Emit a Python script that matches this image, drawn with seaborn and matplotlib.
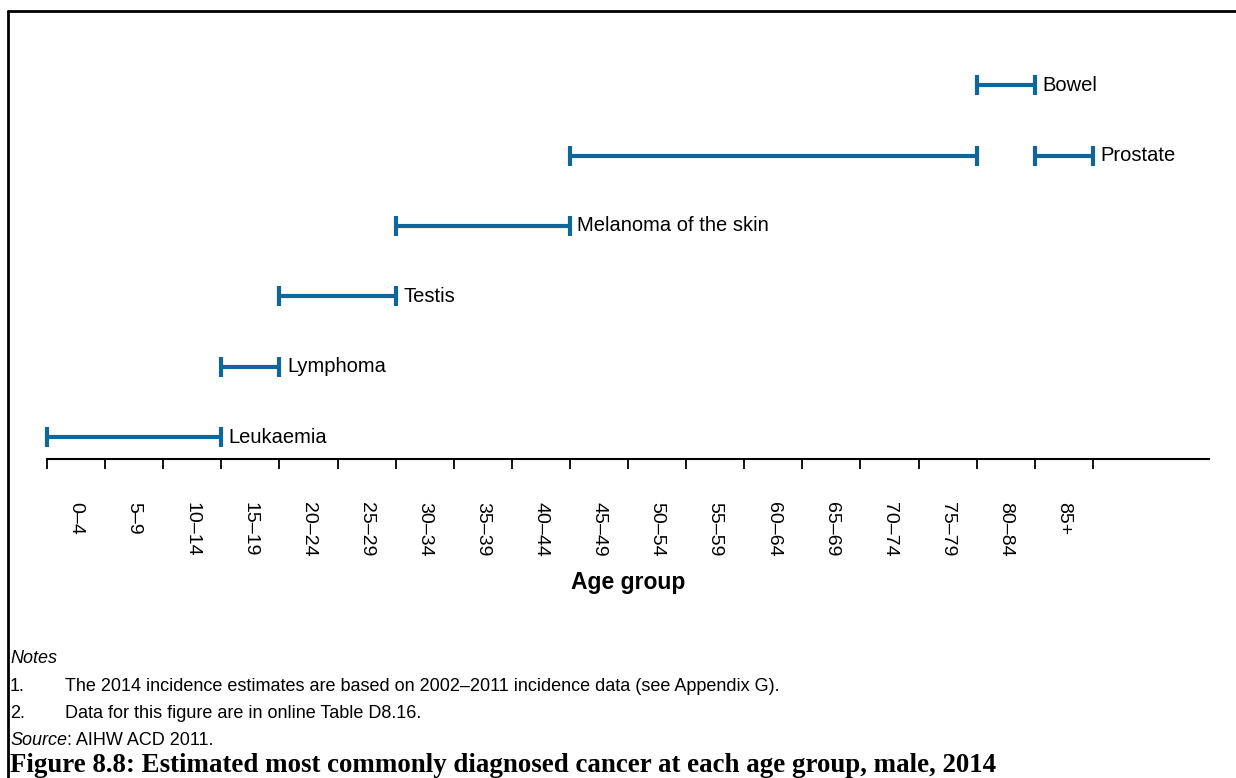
import numpy as np
import pandas as pd
import matplotlib
matplotlib.use("Agg")
import matplotlib.pyplot as plt
from matplotlib.lines import Line2D
import seaborn as sns

# ---------------- data ----------------
age_groups = ["0–4", "5–9", "10–14", "15–19", "20–24", "25–29", "30–34", "35–39",
              "40–44", "45–49", "50–54", "55–59", "60–64", "65–69", "70–74",
              "75–79", "80–84", "85+"]
# each segment: cancer, row, first boundary, last boundary (boundary index between age groups)
seg_cancer = ["Leukaemia", "Lymphoma", "Testis", "Melanoma of the skin",
              "Prostate", "Prostate", "Bowel"]
seg_row = [0, 1, 2, 3, 4, 4, 5]
seg_start = [0, 3, 4, 6, 9, 17, 16]
seg_end = [3, 4, 6, 9, 16, 18, 17]
seg_labelled = [True, True, True, True, False, True, True]

blue = "#0f6699"

sns.set_style("white")
plt.rcParams['font.family'] = ['Liberation Sans', 'DejaVu Sans']
plt.rcParams['text.color'] = 'black'
plt.rcParams['xtick.color'] = 'black'
plt.rcParams['xtick.labelcolor'] = 'black'

rows = []
for i in range(len(seg_cancer)):
    rows.append({"seg": i, "x": seg_start[i], "y": seg_row[i]})
    rows.append({"seg": i, "x": seg_end[i], "y": seg_row[i]})
df = pd.DataFrame(rows)

fig = plt.figure(figsize=(12.36, 7.78), dpi=100)
ax = fig.add_axes([47/1236, 1-459/778, (1209-47)/1236, (459-14)/778])

sns.lineplot(data=df, x="x", y="y", units="seg", estimator=None, sort=False,
             color=blue, lw=3.0, legend=False, ax=ax)
sns.scatterplot(data=df, x="x", y="y", marker="|", s=210, linewidth=3.0,
                color=blue, legend=False, ax=ax, zorder=3)
ax.collections[-1].set_clip_on(False)

for i in range(len(seg_cancer)):
    if seg_labelled[i]:
        ax.text(seg_end[i] + 0.13, seg_row[i], seg_cancer[i], fontsize=14.5,
                va="center", ha="left", color="black")

ax.set_xlim(0, 20)
ax.set_ylim(-0.31, 6.01)
ax.set_yticks([])
ax.set_xticks(range(len(age_groups) + 1))
ax.set_xticklabels([])
ax.set_xticks(np.arange(len(age_groups)) + 0.5, labels=age_groups, minor=True)
ax.tick_params(axis="x", which="major", direction="out", length=7.5, width=1.3,
               color="black", bottom=True)
ax.tick_params(axis="x", which="minor", length=0, pad=31, labelsize=14,
               labelrotation=-90, labelcolor="black")
for lab in ax.get_xticklabels(minor=True):
    lab.set_va("top")
    lab.set_ha("center")
ax.set_xlabel("")
ax.set_ylabel("")
for s in ["top", "right", "left"]:
    ax.spines[s].set_visible(False)
ax.spines["bottom"].set_linewidth(1.5)
ax.spines["bottom"].set_color("black")

fig.text(628/1236, 1-583/778, "Age group", fontsize=16.5, fontweight="bold",
         ha="center", va="center")

# notes
fs = 13
fig.text(10/1236, 1-663/778, "Notes", fontsize=fs, style="italic", va="baseline")
fig.text(10/1236, 1-691/778, "1.", fontsize=fs, va="baseline")
fig.text(65/1236, 1-691/778,
         "The 2014 incidence estimates are based on 2002–2011 incidence data (see Appendix G).",
         fontsize=fs, va="baseline")
fig.text(10/1236, 1-718/778, "2.", fontsize=fs, va="baseline")
fig.text(65/1236, 1-718/778, "Data for this figure are in online Table D8.16.",
         fontsize=fs, va="baseline")
src = fig.text(10/1236, 1-745/778, "Source", fontsize=fs, style="italic", va="baseline")
plt.annotate(": AIHW ACD 2011.", xy=(1, 0), xycoords=src, fontsize=fs,
             va="bottom", ha="left")
fig.text(10/1236, 1-765/778,
         "Figure 8.8: Estimated most commonly diagnosed cancer at each age group, male, 2014",
         fontsize=19.4, fontweight="bold", family=["Liberation Serif", "DejaVu Serif"],
         va="center")

# outer frame
fig.add_artist(Line2D([8/1236, 8/1236], [0, 1-11/778], transform=fig.transFigure,
                      color="black", lw=2))
fig.add_artist(Line2D([8/1236, 1], [1-11/778, 1-11/778], transform=fig.transFigure,
                      color="black", lw=2))

fig.savefig("out.png", dpi=100)
